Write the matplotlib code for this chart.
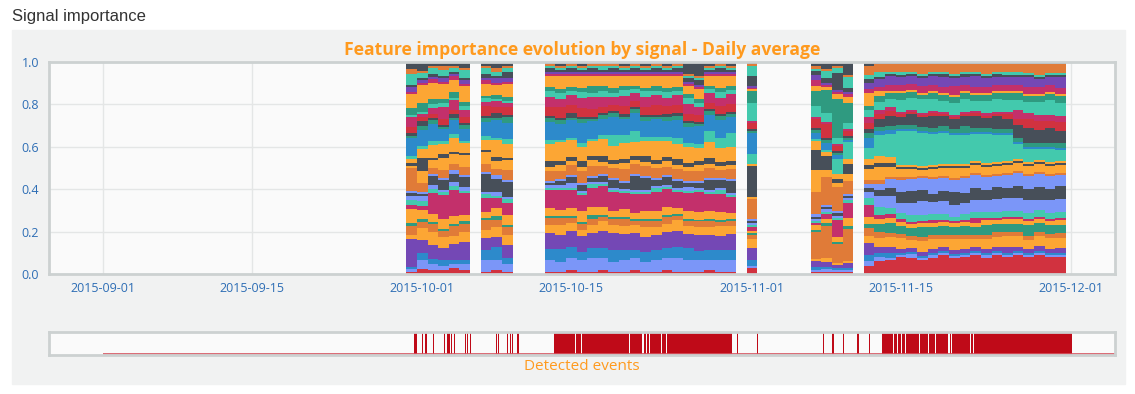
import numpy as np
import pandas as pd
import matplotlib
matplotlib.use('Agg')
import matplotlib.pyplot as plt
import matplotlib.dates as mdates
from matplotlib.patches import Rectangle

# days that have a daily average (gaps = no data)
periods = [('2015-09-30', '2015-10-05'), ('2015-10-07', '2015-10-09'),
           ('2015-10-13', '2015-10-30'), ('2015-11-01', '2015-11-01'),
           ('2015-11-07', '2015-11-10'), ('2015-11-12', '2015-11-30')]

O, D, S, T, G = '#FCA634', '#E07B38', '#474F59', '#43C9AD', '#2F9A80'
P, B, C, R, L = '#7448B5', '#2D8ACB', '#C3306B', '#D1323F', '#7B96F8'

# one colour per signal, bottom of the stack first
signal_colors = [R, L, B, P, O, D, G, O, C, T,
                 L, S, L, D, O, S, O, T, B, G,
                 S, R, C, T, G, O, C, P, S, T,
                 D, S]

# raw importance weights per day (rows) and signal (columns)
weights = [
    [1, 1, 1, 12, 2, 4, 1, 6, 2, 2, 2, 1, 1, 10, 1, 1, 2, 1, 8, 1, 1, 3, 4, 1, 3, 6, 1, 2, 1, 5, 2, 3],
    [2, 4, 3, 6, 5, 3, 1, 4, 2, 2, 2, 1, 1, 4, 5, 6, 4, 1, 7, 2, 2, 2, 1, 1, 4, 8, 1, 1, 1, 2, 1, 4],
    [2, 3, 2, 7, 6, 4, 1, 4, 10, 2, 2, 4, 1, 3, 4, 1, 6, 2, 8, 2, 1, 2, 3, 2, 2, 8, 2, 1, 1, 3, 1, 2],
    [2, 2, 3, 6, 5, 3, 1, 5, 12, 1, 1, 5, 1, 4, 6, 2, 5, 1, 6, 1, 1, 3, 6, 2, 2, 7, 1, 2, 1, 3, 2, 2],
    [3, 2, 2, 8, 4, 5, 1, 4, 13, 2, 2, 4, 2, 3, 5, 1, 7, 2, 7, 1, 2, 2, 5, 1, 3, 6, 2, 1, 1, 2, 1, 2],
    [2, 3, 2, 9, 5, 4, 2, 3, 11, 1, 2, 5, 1, 4, 6, 1, 5, 1, 6, 2, 1, 3, 4, 2, 2, 8, 1, 2, 1, 4, 1, 3],
    [1, 6, 5, 6, 4, 5, 1, 3, 7, 2, 1, 9, 1, 4, 6, 1, 5, 2, 7, 2, 1, 5, 2, 2, 1, 6, 2, 1, 2, 3, 1, 2],
    [2, 5, 6, 5, 5, 3, 2, 4, 5, 1, 2, 6, 2, 3, 4, 2, 8, 1, 9, 1, 2, 3, 3, 1, 2, 5, 1, 2, 1, 2, 2, 3],
    [1, 4, 3, 6, 5, 4, 1, 5, 6, 2, 1, 7, 1, 5, 5, 1, 7, 2, 8, 3, 1, 4, 2, 1, 2, 6, 1, 2, 3, 2, 1, 2],
    [1, 6, 5, 8, 4, 3, 1, 4, 9, 1, 1, 1, 1, 5, 2, 3, 8, 2, 9, 2, 1, 4, 5, 3, 2, 5, 1, 1, 2, 1, 1, 1],
    [1, 5, 6, 7, 5, 3, 1, 3, 10, 1, 1, 2, 1, 4, 3, 2, 9, 1, 8, 2, 1, 5, 4, 3, 2, 6, 1, 1, 1, 1, 1, 2],
    [2, 6, 5, 8, 4, 2, 1, 4, 9, 1, 2, 3, 1, 5, 2, 2, 8, 1, 9, 1, 2, 4, 5, 2, 2, 5, 1, 1, 2, 1, 1, 1],
    [1, 6, 4, 8, 3, 3, 1, 5, 8, 1, 1, 3, 1, 6, 2, 3, 7, 2, 10, 2, 1, 4, 5, 3, 2, 6, 1, 1, 1, 1, 1, 2],
    [1, 7, 5, 7, 4, 3, 2, 4, 9, 2, 1, 2, 1, 5, 3, 2, 7, 1, 9, 1, 1, 4, 6, 2, 3, 5, 1, 1, 2, 1, 1, 1],
    [2, 6, 5, 8, 5, 2, 1, 4, 10, 1, 1, 3, 1, 4, 2, 3, 8, 2, 8, 2, 1, 3, 5, 3, 2, 5, 1, 1, 1, 2, 1, 1],
    [1, 5, 6, 8, 4, 3, 1, 3, 9, 1, 1, 4, 1, 5, 2, 2, 7, 5, 9, 2, 1, 3, 4, 2, 2, 6, 1, 1, 2, 1, 1, 1],
    [1, 6, 5, 8, 4, 3, 1, 4, 8, 1, 1, 3, 1, 6, 3, 2, 8, 4, 8, 1, 1, 4, 5, 3, 2, 5, 1, 1, 1, 1, 1, 2],
    [2, 6, 4, 9, 4, 2, 1, 3, 10, 1, 1, 7, 1, 5, 2, 2, 7, 6, 9, 2, 1, 3, 4, 2, 2, 5, 1, 1, 2, 1, 1, 1],
    [1, 5, 5, 8, 5, 3, 1, 4, 9, 1, 1, 6, 1, 5, 2, 3, 8, 2, 8, 2, 1, 4, 5, 3, 2, 6, 1, 1, 1, 1, 1, 2],
    [1, 6, 5, 7, 4, 3, 1, 4, 9, 2, 1, 3, 1, 5, 2, 2, 9, 2, 9, 1, 1, 5, 5, 2, 2, 5, 1, 1, 2, 1, 1, 1],
    [2, 6, 5, 8, 4, 3, 1, 4, 9, 1, 1, 4, 1, 4, 3, 2, 8, 2, 8, 2, 1, 4, 4, 3, 2, 6, 1, 1, 1, 1, 1, 2],
    [1, 7, 5, 8, 5, 2, 1, 3, 8, 1, 1, 3, 1, 5, 2, 3, 7, 3, 9, 2, 1, 4, 5, 2, 2, 5, 1, 1, 2, 1, 1, 1],
    [1, 6, 6, 7, 4, 3, 1, 4, 9, 1, 2, 2, 1, 5, 2, 2, 8, 2, 8, 2, 1, 4, 5, 3, 2, 4, 1, 1, 2, 1, 1, 6],
    [1, 6, 5, 8, 4, 3, 1, 4, 10, 1, 1, 3, 1, 5, 3, 2, 7, 2, 9, 1, 1, 4, 4, 2, 2, 5, 1, 1, 3, 1, 1, 7],
    [2, 5, 5, 8, 4, 3, 1, 4, 9, 1, 1, 5, 1, 5, 2, 3, 8, 6, 8, 2, 1, 3, 5, 2, 2, 5, 1, 1, 1, 1, 1, 2],
    [1, 6, 5, 7, 5, 2, 1, 4, 9, 2, 1, 4, 1, 4, 2, 2, 7, 5, 9, 2, 1, 4, 4, 3, 2, 6, 1, 1, 2, 1, 1, 1],
    [1, 6, 5, 8, 4, 3, 1, 3, 8, 1, 1, 6, 1, 5, 2, 2, 7, 7, 8, 2, 1, 4, 5, 2, 2, 5, 1, 1, 1, 1, 1, 2],
    [3, 1, 3, 6, 5, 2, 1, 1, 2, 1, 1, 1, 1, 10, 1, 16, 1, 5, 11, 1, 1, 3, 1, 9, 6, 1, 1, 1, 5, 5, 1, 1],
    [1, 1, 1, 3, 1, 12, 1, 2, 1, 1, 1, 1, 1, 10, 10, 9, 4, 1, 3, 1, 1, 4, 1, 5, 7, 2, 3, 2, 2, 1, 1, 2],
    [1, 1, 1, 2, 2, 14, 1, 2, 2, 1, 1, 1, 1, 12, 3, 6, 2, 1, 3, 1, 1, 6, 1, 4, 10, 1, 1, 1, 2, 3, 1, 3],
    [1, 1, 1, 1, 1, 9, 1, 2, 8, 1, 1, 1, 1, 11, 2, 2, 2, 7, 2, 1, 1, 2, 1, 3, 18, 2, 1, 1, 8, 2, 1, 2],
    [1, 1, 1, 2, 1, 15, 1, 4, 7, 1, 1, 1, 1, 6, 3, 5, 2, 8, 1, 1, 1, 2, 1, 3, 9, 3, 1, 1, 2, 5, 1, 6],
    [4, 2, 3, 6, 3, 4, 2, 3, 6, 3, 3, 2, 2, 2, 5, 2, 3, 5, 5, 2, 2, 3, 3, 3, 2, 6, 2, 3, 2, 2, 4, 2],
    [6, 2, 2, 3, 4, 3, 4, 2, 2, 4, 5, 3, 3, 2, 6, 2, 3, 10, 2, 2, 4, 2, 2, 4, 3, 2, 2, 4, 1, 2, 4, 1],
    [7, 1, 2, 3, 5, 2, 5, 2, 2, 3, 6, 4, 4, 1, 5, 2, 3, 11, 2, 2, 5, 2, 2, 4, 3, 1, 3, 4, 1, 1, 4, 1],
    [8, 1, 1, 2, 5, 2, 4, 2, 1, 3, 5, 5, 6, 1, 4, 1, 1, 16, 1, 2, 4, 1, 1, 6, 3, 1, 3, 4, 1, 1, 4, 1],
    [8, 2, 1, 2, 4, 2, 4, 2, 1, 3, 6, 6, 6, 1, 4, 1, 1, 17, 1, 2, 5, 1, 1, 6, 3, 1, 3, 4, 1, 1, 4, 1],
    [7, 1, 1, 2, 5, 2, 5, 2, 1, 3, 7, 5, 6, 1, 3, 1, 1, 16, 1, 2, 5, 1, 1, 7, 2, 1, 3, 4, 1, 1, 5, 1],
    [8, 1, 1, 2, 5, 2, 4, 2, 1, 3, 6, 4, 7, 1, 4, 1, 1, 15, 1, 2, 6, 1, 1, 6, 3, 1, 3, 4, 1, 1, 4, 1],
    [9, 1, 1, 2, 4, 2, 4, 2, 1, 3, 6, 5, 6, 1, 4, 1, 1, 15, 1, 2, 5, 1, 1, 5, 3, 1, 3, 5, 1, 1, 4, 1],
    [8, 1, 1, 2, 5, 2, 4, 2, 1, 2, 6, 6, 6, 1, 5, 1, 1, 14, 1, 2, 5, 1, 1, 6, 3, 1, 4, 4, 1, 1, 5, 1],
    [8, 1, 1, 2, 5, 2, 4, 2, 1, 3, 5, 5, 7, 1, 4, 1, 1, 14, 1, 3, 5, 1, 1, 6, 3, 1, 3, 4, 1, 1, 4, 1],
    [9, 1, 1, 2, 4, 2, 4, 2, 2, 3, 6, 6, 6, 1, 4, 1, 1, 13, 1, 2, 6, 1, 1, 5, 3, 1, 3, 5, 1, 1, 4, 1],
    [8, 1, 1, 2, 5, 2, 5, 2, 1, 3, 6, 5, 6, 1, 4, 1, 1, 14, 1, 2, 5, 1, 1, 6, 3, 1, 3, 4, 1, 1, 5, 1],
    [9, 1, 1, 2, 5, 2, 4, 2, 1, 3, 6, 6, 5, 1, 4, 1, 1, 13, 1, 2, 6, 1, 1, 6, 3, 1, 3, 4, 1, 1, 4, 1],
    [8, 1, 1, 3, 5, 2, 4, 2, 1, 3, 6, 5, 6, 1, 4, 1, 1, 12, 1, 2, 5, 2, 1, 6, 3, 1, 3, 4, 1, 1, 4, 1],
    [9, 1, 1, 2, 5, 2, 4, 2, 1, 3, 6, 6, 6, 1, 4, 1, 1, 7, 1, 2, 6, 3, 4, 5, 3, 1, 3, 4, 1, 1, 4, 1],
    [8, 1, 1, 2, 4, 2, 5, 2, 1, 3, 6, 5, 6, 1, 4, 1, 1, 6, 1, 2, 7, 4, 3, 5, 3, 1, 3, 5, 1, 1, 4, 1],
    [9, 1, 1, 2, 5, 2, 4, 2, 1, 3, 5, 6, 6, 1, 4, 1, 1, 5, 1, 2, 6, 4, 3, 6, 3, 1, 3, 4, 1, 1, 5, 1],
    [8, 1, 1, 2, 5, 2, 4, 2, 1, 3, 6, 5, 6, 1, 4, 1, 1, 6, 1, 2, 7, 3, 3, 7, 3, 1, 3, 4, 1, 1, 4, 1],
    [8, 1, 1, 2, 5, 2, 4, 2, 1, 3, 6, 6, 5, 1, 4, 1, 1, 5, 1, 2, 6, 4, 3, 6, 3, 1, 3, 5, 1, 1, 4, 1],
]

# detected events, in days after 2015-09-01
event_lines = [29.2, 29.35, 30.0, 30.3, 31.0, 32.05, 32.3, 32.45, 32.7, 33.0,
               34.02, 34.18, 34.5, 36.9, 37.1, 37.95, 38.25, 38.4, 38.94,
               59.55, 61.43, 67.64, 68.55, 69.52, 70.9, 72.0]
event_blocks = [(42.4, 44.35), (44.45, 44.95), (45.05, 49.45), (49.55, 50.7), (50.8, 51.0),
                (51.1, 51.35), (51.45, 52.45), (52.55, 52.9), (53.0, 59.1),
                (73.2, 74.25), (74.35, 74.65), (74.75, 74.95), (75.05, 75.35), (75.45, 76.65),
                (76.75, 77.55), (77.65, 78.15), (78.25, 79.45), (79.55, 79.7), (79.8, 81.45),
                (81.55, 81.75), (81.85, 91.1)]

days = pd.DatetimeIndex(np.concatenate([pd.date_range(a, b, freq='D') for a, b in periods]))
w = np.array(weights, dtype=float)
frac = w / w.sum(axis=1, keepdims=True)

base = mdates.date2num(pd.Timestamp('2015-09-01'))
xlim = (base - 5.07, base + 95.1)
tick_color = '#2E6EB5'
orange = '#FF9A1E'

fig = plt.figure(figsize=(11.35, 3.94), dpi=100)
fig.patches.append(Rectangle((12 / 1135, 10 / 394), 1113 / 1135, 354 / 394,
                             transform=fig.transFigure, color='#F1F2F2', zorder=-1))
fig.text(12 / 1135, 1 - 16 / 394, 'Signal importance', fontsize=12, color='#333333',
         family='Liberation Sans', va='center')

ax = fig.add_axes([49 / 1135, 1 - 274 / 394, 1066 / 1135, 212 / 394])
ax.set_facecolor('#FAFAFA')
xnum = mdates.date2num(days)
bottom = np.zeros(len(days))
for i, col in enumerate(signal_colors):
    ax.bar(xnum, frac[:, i], width=1.0, bottom=bottom, color=col, linewidth=0, zorder=2)
    bottom += frac[:, i]

ax.set_xlim(xlim)
ax.set_ylim(0, 1)
ticks = pd.to_datetime(['2015-09-01', '2015-09-15', '2015-10-01', '2015-10-15',
                        '2015-11-01', '2015-11-15', '2015-12-01'])
ax.set_xticks(mdates.date2num(ticks))
ax.set_xticklabels([t.strftime('%Y-%m-%d') for t in ticks])
ax.set_yticks(np.arange(0, 1.01, 0.2))
ax.set_yticklabels(['%.1f' % v for v in np.arange(0, 1.01, 0.2)])
ax.tick_params(length=0, labelsize=9, labelcolor=tick_color)
ax.tick_params(axis='x', pad=6)
ax.tick_params(axis='y', pad=7)
for lab in ax.get_xticklabels() + ax.get_yticklabels():
    lab.set_family('Open Sans')
ax.grid(True, color='#E4E6E6', linewidth=1, zorder=0)
ax.set_axisbelow(True)
for sp in ax.spines.values():
    sp.set_color('#CCD1D1')
    sp.set_linewidth(2)
ax.set_title('Feature importance evolution by signal - Daily average', color=orange,
             fontsize=12.6, fontweight='bold', family='Open Sans', pad=5)

ev = fig.add_axes([49 / 1135, 1 - 355 / 394, 1066 / 1135, 23 / 394])
ev.set_facecolor('#FAFAFA')
ev.set_xlim(xlim)
ev.set_ylim(0, 1)
ev.hlines(0.06, base, xlim[1], color='#D5535E', linewidth=1.2)
ev.broken_barh([(base + d, 0.12) for d in event_lines], (0, 1), color='#BF0A18', linewidth=0)
ev.broken_barh([(base + a, b - a) for a, b in event_blocks], (0, 1), color='#BF0A18', linewidth=0)
ev.set_xticks([])
ev.set_yticks([])
for sp in ev.spines.values():
    sp.set_color('#CCD1D1')
    sp.set_linewidth(2)
fig.text(582 / 1135, 1 - 367 / 394, 'Detected events', color=orange, fontsize=11,
         family='Open Sans', ha='center', va='center')

fig.savefig('out.png', dpi=100)
